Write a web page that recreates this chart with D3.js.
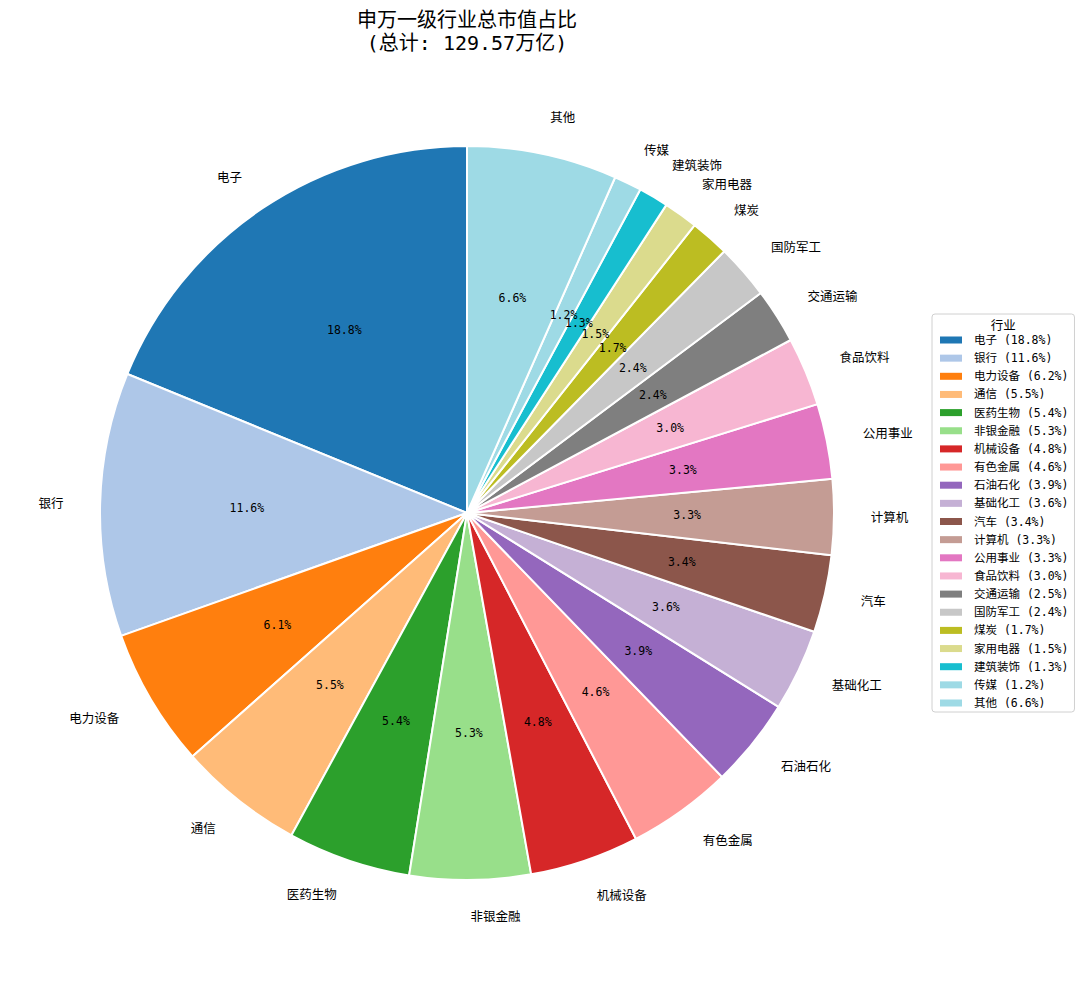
<!DOCTYPE html>
<html>
	<head>
		<meta charset="utf-8">
		<title>申万一级行业总市值占比</title>
		<style>
* {
	margin: 0;
	padding: 0;
}
html,
body {
	background-color: white;
	width: 1080px;
	height: 981px;
	overflow: hidden;
}
svg {
	display: block;
}
text {
	font-family: "DejaVu Sans Mono", "Noto Sans CJK SC", sans-serif;
	fill: black;
}
		</style>
	</head>
	<body>
		<div id="chart"></div>
		<script src="https://cdn.jsdelivr.net/npm/d3@7/dist/d3.min.js"></script>
		<script>

// industries, in drawing order (counter-clockwise from 12 o'clock)
var industries = [
	'电子', '银行', '电力设备', '通信', '医药生物', '非银金融', '机械设备',
	'有色金属', '石油石化', '基础化工', '汽车', '计算机', '公用事业', '食品饮料',
	'交通运输', '国防军工', '煤炭', '家用电器', '建筑装饰', '传媒', '其他'
];

var marketValues = [
	24.38, 15.05, 7.92, 7.15, 7.02, 6.89, 6.24,
	5.98, 5.07, 4.68, 4.42, 4.30, 4.29, 3.91,
	3.13, 3.12, 2.22, 1.96, 1.70, 1.57, 8.57
];

// shares printed in the legend (as in the original)
var legendShares = [
	'18.8', '11.6', '6.2', '5.5', '5.4', '5.3', '4.8',
	'4.6', '3.9', '3.6', '3.4', '3.3', '3.3', '3.0',
	'2.5', '2.4', '1.7', '1.5', '1.3', '1.2', '6.6'
];

// tab20, last colour repeated for 其他
var palette = [
	'#1f77b4', '#aec7e8', '#ff7f0e', '#ffbb78', '#2ca02c', '#98df8a', '#d62728',
	'#ff9896', '#9467bd', '#c5b0d5', '#8c564b', '#c49c94', '#e377c2', '#f7b6d2',
	'#7f7f7f', '#c7c7c7', '#bcbd22', '#dbdb8d', '#17becf', '#9edae5', '#9edae5'
];

var width = 1080;
var height = 981;
var cx = 467;
var cy = 513;
var radius = 367;

var total = d3.sum( marketValues );

var data = industries.map( function ( name, i ) {
	return { name: name, value: marketValues[i], share: legendShares[i], color: palette[i] };
} );

var svg = d3.select( '#chart' ).append( 'svg' )
	.attr( 'width', width )
	.attr( 'height', height );

// title
var title = svg.append( 'text' )
	.attr( 'x', cx )
	.attr( 'text-anchor', 'middle' )
	.style( 'font-size', '20px' );
title.append( 'tspan' )
	.attr( 'x', cx )
	.attr( 'y', 27 )
	.text( '申万一级行业总市值占比' );
title.append( 'tspan' )
	.attr( 'x', cx )
	.attr( 'y', 50 )
	.text( '(总计: ' + total.toFixed( 2 ) + '万亿)' );

// counter-clockwise, starting at the top
var pie = d3.pie()
	.sort( null )
	.value( function ( d ) { return d.value } )
	.startAngle( 0 )
	.endAngle( -2 * Math.PI );

var arcs = pie( data );

var arc = d3.arc()
	.innerRadius( 0 )
	.outerRadius( radius );

var g = svg.append( 'g' )
	.attr( 'transform', 'translate(' + cx + ',' + cy + ')' );

g.selectAll( 'path' )
	.data( arcs )
	.enter()
	.append( 'path' )
	.attr( 'd', arc )
	.style( 'fill', function ( d ) { return d.data.color } )
	.style( 'stroke', 'white' )
	.style( 'stroke-width', 2 )
	.style( 'stroke-linejoin', 'round' );

function midAngle( d ) {
	return ( d.startAngle + d.endAngle ) / 2;
}

// outer labels (distance 1.1)
g.selectAll( 'text.label' )
	.data( arcs )
	.enter()
	.append( 'text' )
	.attr( 'class', 'label' )
	.attr( 'x', function ( d ) { return Math.sin( midAngle( d ) ) * radius * 1.1 } )
	.attr( 'y', function ( d ) { return -Math.cos( midAngle( d ) ) * radius * 1.1 } )
	.attr( 'dy', '0.35em' )
	.attr( 'text-anchor', function ( d ) {
		return Math.sin( midAngle( d ) ) > 0 ? 'start' : 'end';
	} )
	.style( 'font-size', '12.5px' )
	.text( function ( d ) { return d.data.name } );

// percentages (distance 0.6)
g.selectAll( 'text.pct' )
	.data( arcs )
	.enter()
	.append( 'text' )
	.attr( 'class', 'pct' )
	.attr( 'x', function ( d ) { return Math.sin( midAngle( d ) ) * radius * 0.6 } )
	.attr( 'y', function ( d ) { return -Math.cos( midAngle( d ) ) * radius * 0.6 } )
	.attr( 'dy', '0.35em' )
	.attr( 'text-anchor', 'middle' )
	.style( 'font-size', '11.5px' )
	.text( function ( d ) { return ( d.data.value / total * 100 ).toFixed( 1 ) + '%' } );

// legend
var legendX = 932;
var legendY = 314;
var rowStep = 18.15;

var legend = svg.append( 'g' )
	.attr( 'transform', 'translate(' + legendX + ',' + legendY + ')' );

var frame = legend.append( 'rect' )
	.attr( 'x', 0 )
	.attr( 'y', 0 )
	.attr( 'rx', 3 )
	.attr( 'height', 398 )
	.style( 'fill', 'white' )
	.style( 'fill-opacity', 0.8 )
	.style( 'stroke', '#d0d0d0' )
	.style( 'stroke-width', 1 );

var legendTitle = legend.append( 'text' )
	.attr( 'y', 12 )
	.attr( 'dy', '0.35em' )
	.attr( 'text-anchor', 'middle' )
	.style( 'font-size', '12.5px' )
	.text( '行业' );

var rows = legend.selectAll( 'g.row' )
	.data( data )
	.enter()
	.append( 'g' )
	.attr( 'class', 'row' )
	.attr( 'transform', function ( d, i ) {
		return 'translate(0,' + ( 26 + i * rowStep ) + ')';
	} );

rows.append( 'rect' )
	.attr( 'x', 8 )
	.attr( 'y', -3.5 )
	.attr( 'width', 22 )
	.attr( 'height', 7 )
	.style( 'fill', function ( d ) { return d.color } );

rows.append( 'text' )
	.attr( 'x', 42 )
	.attr( 'dy', '0.35em' )
	.style( 'font-size', '11.5px' )
	.text( function ( d ) { return d.name + ' (' + d.share + '%)' } );

var maxText = 0;
rows.selectAll( 'text' ).each( function () {
	maxText = Math.max( maxText, this.getComputedTextLength() );
} );
var legendWidth = Math.max( 139, 42 + maxText + 6 );
frame.attr( 'width', legendWidth );
legendTitle.attr( 'x', legendWidth / 2 );

		</script>
	</body>
</html>
